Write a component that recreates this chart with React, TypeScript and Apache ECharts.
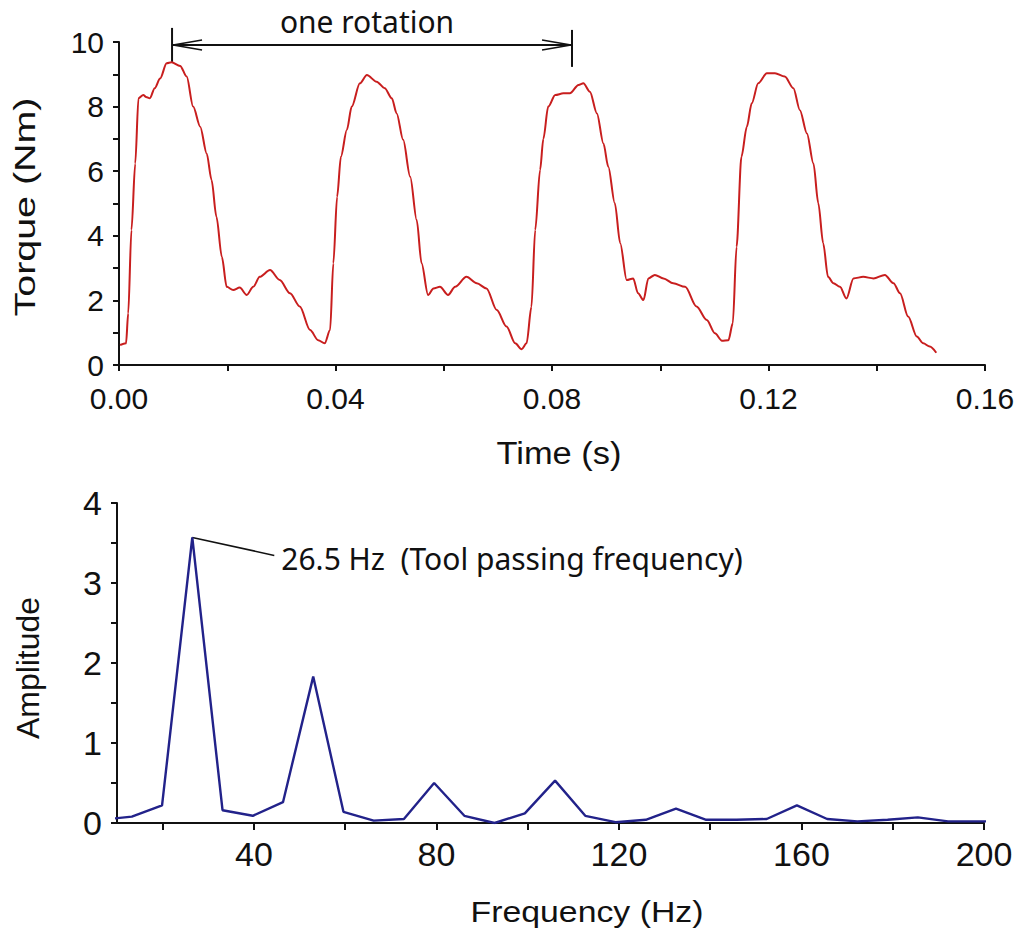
import React, { useEffect, useRef } from "react";
import * as echarts from "echarts";

// ---- Torque vs time (top panel) ----
const TIME_S = [
  0.0002, 0.0013, 0.0017, 0.0023, 0.003, 0.0036, 0.0045, 0.005, 0.0057, 0.0066,
  0.0076, 0.0088, 0.0097, 0.0113, 0.0125, 0.0137, 0.015, 0.0162, 0.0171, 0.018,
  0.019, 0.0199, 0.0211, 0.0223, 0.0236, 0.0248, 0.026, 0.0279, 0.0297, 0.0316,
  0.0334, 0.0353, 0.0368, 0.038, 0.039, 0.0396, 0.0403, 0.041, 0.0421, 0.043,
  0.0445, 0.0458, 0.0476, 0.0491, 0.0504, 0.0513, 0.0525, 0.0538, 0.055, 0.0559,
  0.0571, 0.0581, 0.0593, 0.0608, 0.0621, 0.0642, 0.0661, 0.0679, 0.0698, 0.0716,
  0.0732, 0.0744, 0.0753, 0.0762, 0.0769, 0.0778, 0.0784, 0.0793, 0.0806, 0.0821,
  0.0833, 0.0849, 0.0858, 0.087, 0.0883, 0.0895, 0.0904, 0.0916, 0.0926, 0.0938,
  0.095, 0.0959, 0.0969, 0.0978, 0.099, 0.1006, 0.1024, 0.1046, 0.1067, 0.1086,
  0.1101, 0.1114, 0.1126, 0.1134, 0.1141, 0.115, 0.116, 0.1169, 0.1181, 0.1197,
  0.1212, 0.123, 0.1246, 0.1258, 0.1271, 0.1283, 0.1292, 0.1301, 0.131, 0.132,
  0.1332, 0.1344, 0.1357, 0.1375, 0.1394, 0.1415, 0.1431, 0.1443, 0.1458, 0.1474,
  0.1486, 0.1498, 0.151,
];
const TORQUE_NM = [
  0.62, 0.67, 1.6, 4.18, 6.24, 8.26, 8.36, 8.3, 8.26, 8.57,
  8.87, 9.34, 9.37, 9.26, 8.93, 8.0, 7.38, 6.55, 5.73, 4.59,
  3.35, 2.42, 2.32, 2.4, 2.17, 2.42, 2.73, 2.94, 2.63, 2.22,
  1.81, 1.08, 0.77, 0.67, 1.08, 3.15, 5.21, 6.45, 7.28, 8.0,
  8.72, 8.98, 8.77, 8.57, 8.26, 7.79, 6.97, 5.83, 4.49, 3.15,
  2.17, 2.37, 2.42, 2.17, 2.42, 2.73, 2.53, 2.37, 1.7, 1.19,
  0.67, 0.49, 0.67, 1.8, 4.18, 6.04, 7.0, 8.0, 8.36, 8.41,
  8.41, 8.67, 8.72, 8.46, 7.79, 6.86, 6.14, 5.01, 3.77, 2.63,
  2.68, 2.22, 2.01, 2.68, 2.79, 2.68, 2.53, 2.42, 1.81, 1.39,
  0.98, 0.75, 0.77, 1.29, 3.66, 6.45, 7.38, 8.1, 8.72, 9.03,
  9.03, 8.93, 8.57, 7.89, 7.17, 6.24, 5.01, 3.77, 2.73, 2.53,
  2.42, 2.06, 2.68, 2.73, 2.68, 2.79, 2.53, 2.22, 1.5, 0.88,
  0.67, 0.57, 0.38,
];
const TIME_TICKS = [0, 0.02, 0.04, 0.06, 0.08, 0.1, 0.12, 0.14, 0.16];
const TIME_LABELS = [0, 0.04, 0.08, 0.12, 0.16];
const TORQUE_TICKS = [0, 1, 2, 3, 4, 5, 6, 7, 8, 9, 10];
const TORQUE_LABELS = [0, 2, 4, 6, 8, 10];
// one-rotation marker (time of the two bars)
const ROTATION_START = 0.0098;
const ROTATION_END = 0.0837;

// ---- Amplitude spectrum (bottom panel) ----
const FREQ_HZ = [
  6.625, 13.25, 19.875, 26.5, 33.125, 39.75, 46.375, 53, 59.625, 66.25,
  72.875, 79.5, 86.125, 92.75, 99.375, 106, 112.625, 119.25, 125.875, 132.5,
  139.125, 145.75, 152.375, 159, 165.625, 172.25, 178.875, 185.5, 192.125, 198.75,
  205.375,
];
const AMPLITUDE = [
  0.04, 0.08, 0.22, 3.57, 0.16, 0.09, 0.26, 1.83, 0.14, 0.03,
  0.05, 0.5, 0.09, 0.0, 0.12, 0.53, 0.09, 0.01, 0.04, 0.18,
  0.04, 0.04, 0.05, 0.22, 0.05, 0.02, 0.04, 0.07, 0.02, 0.02,
  0.02,
];
const FREQ_TICKS = [20, 40, 60, 80, 100, 120, 140, 160, 180, 200];
const FREQ_LABELS = [40, 80, 120, 160, 200];
const AMP_TICKS = [0, 0.5, 1, 1.5, 2, 2.5, 3, 3.5, 4];
const AMP_LABELS = [0, 1, 2, 3, 4];
const PEAK_FREQ = 26.5;
const PEAK_AMP = 3.57;

const ARIAL = '"Liberation Sans", Arial, sans-serif';
const SEGOE = '"Noto Sans", "Open Sans", sans-serif';
const INK = "#111";

function textWidth(text: string, size: number, family: string) {
  const c = document.createElement("canvas").getContext("2d");
  if (!c) return text.length * size * 0.55;
  c.font = `${size}px ${family}`;
  return c.measureText(text).width;
}

function fitText(
  text: string,
  x: number,
  y: number,
  size: number,
  family: string,
  targetWidth: number,
  rotation = 0
) {
  const w = textWidth(text, size, family);
  return {
    type: "text",
    x,
    y,
    rotation,
    scaleX: targetWidth / w,
    silent: true,
    style: {
      text,
      fontSize: size,
      fontFamily: family,
      fill: INK,
      align: "center",
      verticalAlign: "middle",
      textAlign: "center",
      textVerticalAlign: "middle",
    },
  };
}

function axisCommon(fontSize: number, lineHeight: number) {
  return {
    axisLine: { show: true, onZero: false, lineStyle: { color: INK, width: 2 } },
    splitLine: { show: false },
    axisLabel: {
      color: INK,
      fontSize,
      lineHeight,
      fontFamily: ARIAL,
    },
  };
}

export default function App() {
  const ref = useRef<HTMLDivElement>(null);
  useEffect(() => {
    if (!ref.current) return;
    const chart = echarts.init(ref.current, undefined, { renderer: "svg" });
    const topX = axisCommon(30, 24);
    const topY = axisCommon(30, 24);
    const botX = axisCommon(34, 28);
    const botY = axisCommon(34, 28);
    const option: any = {
      animation: false,
      backgroundColor: "#fff",
      grid: [
        { left: 119, top: 42, width: 866, height: 323, containLabel: false },
        { left: 117, top: 503, width: 867, height: 320, containLabel: false },
      ],
      xAxis: [
        {
          type: "value",
          gridIndex: 0,
          min: 0,
          max: 0.16,
          ...topX,
          axisTick: {
            show: true,
            inside: false,
            length: 6,
            lineStyle: { color: INK, width: 2 },
            customValues: TIME_TICKS,
          },
          axisLabel: {
            ...topX.axisLabel,
            margin: 21,
            customValues: TIME_LABELS,
            formatter: (v: number) => v.toFixed(2),
          },
        },
        {
          type: "value",
          gridIndex: 1,
          min: 10,
          max: 200,
          ...botX,
          axisTick: {
            show: true,
            inside: false,
            length: 7,
            lineStyle: { color: INK, width: 2 },
            customValues: FREQ_TICKS,
          },
          axisLabel: {
            ...botX.axisLabel,
            margin: 17,
            customValues: FREQ_LABELS,
            formatter: (v: number) => String(v),
          },
        },
      ],
      yAxis: [
        {
          type: "value",
          gridIndex: 0,
          min: 0,
          max: 10,
          ...topY,
          axisTick: {
            show: true,
            inside: false,
            length: 6,
            lineStyle: { color: INK, width: 2 },
            customValues: TORQUE_TICKS,
          },
          axisLabel: {
            ...topY.axisLabel,
            margin: 15,
            customValues: TORQUE_LABELS,
            formatter: (v: number) => String(v),
          },
        },
        {
          type: "value",
          gridIndex: 1,
          min: 0,
          max: 4,
          ...botY,
          axisTick: {
            show: true,
            inside: false,
            length: 6,
            lineStyle: { color: INK, width: 2 },
            customValues: AMP_TICKS,
          },
          axisLabel: {
            ...botY.axisLabel,
            margin: 15,
            customValues: AMP_LABELS,
            formatter: (v: number) => String(v),
          },
        },
      ],
      series: [
        {
          type: "line",
          xAxisIndex: 0,
          yAxisIndex: 0,
          data: TIME_S.map((t, i) => [t, TORQUE_NM[i]]),
          showSymbol: false,
          symbol: "none",
          smooth: 0.3,
          smoothMonotone: "x",
          lineStyle: { color: "#c81e1e", width: 2 },
          clip: true,
        },
        {
          type: "line",
          xAxisIndex: 1,
          yAxisIndex: 1,
          data: FREQ_HZ.map((f, i) => [f, AMPLITUDE[i]]),
          showSymbol: false,
          symbol: "none",
          lineStyle: { color: "#22228a", width: 2.4 },
          clip: true,
        },
      ],
    };
    chart.setOption(option);

    const p = (grid: number, x: number, y: number) =>
      chart.convertToPixel({ xAxisIndex: grid, yAxisIndex: grid }, [x, y]) as number[];

    const lStart = p(0, ROTATION_START, 9.91);
    const lEnd = p(0, ROTATION_END, 9.91);
    const ly = lStart[1];
    const peak = p(1, PEAK_FREQ, PEAK_AMP);
    const lineStyle = { stroke: INK, lineWidth: 2, fill: "none" };

    const graphic: any[] = [
      // one rotation marker
      { type: "line", silent: true, shape: { x1: lStart[0], y1: ly - 17, x2: lStart[0], y2: ly + 17 }, style: lineStyle },
      { type: "line", silent: true, shape: { x1: lEnd[0], y1: ly - 15, x2: lEnd[0], y2: ly + 22 }, style: lineStyle },
      { type: "line", silent: true, shape: { x1: lStart[0], y1: ly, x2: lEnd[0], y2: ly }, style: lineStyle },
      {
        type: "polyline",
        silent: true,
        shape: { points: [[lStart[0] + 30, ly - 5], [lStart[0] + 1, ly], [lStart[0] + 30, ly + 5]] },
        style: { ...lineStyle, lineWidth: 1.5 },
      },
      {
        type: "polyline",
        silent: true,
        shape: { points: [[lEnd[0] - 30, ly - 5], [lEnd[0] - 1, ly], [lEnd[0] - 30, ly + 5]] },
        style: { ...lineStyle, lineWidth: 1.5 },
      },
      {
        type: "text",
        x: (lStart[0] + lEnd[0]) / 2 - 5,
        y: ly - 23,
        silent: true,
        style: {
          text: "one rotation",
          fontSize: 30,
          fontFamily: SEGOE,
          fill: INK,
          align: "center",
          verticalAlign: "middle",
          textAlign: "center",
          textVerticalAlign: "middle",
        },
      },
      // peak annotation
      {
        type: "line",
        silent: true,
        shape: { x1: peak[0], y1: peak[1], x2: peak[0] + 82, y2: peak[1] + 18 },
        style: { stroke: INK, lineWidth: 1.5 },
      },
      {
        type: "text",
        x: peak[0] + 89,
        y: peak[1] + 21,
        silent: true,
        style: {
          text: "26.5 Hz  (Tool passing frequency)",
          fontSize: 30,
          fontFamily: SEGOE,
          fill: INK,
          align: "left",
          verticalAlign: "middle",
          textAlign: "left",
          textVerticalAlign: "middle",
        },
      },
      // axis titles
      fitText("Time (s)", 559, 453, 31, ARIAL, 125),
      fitText("Torque (Nm)", 25, 207, 29, ARIAL, 219, Math.PI / 2),
      fitText("Frequency (Hz)", 587, 912, 29, ARIAL, 233),
      fitText("Amplitude", 29, 668, 31, ARIAL, 142, Math.PI / 2),
    ];
    chart.setOption({ graphic });

    return () => chart.dispose();
  }, []);
  return (
    <div
      ref={ref}
      style={{ position: "absolute", left: 0, top: 0, width: 1024, height: 940 }}
    />
  );
}
